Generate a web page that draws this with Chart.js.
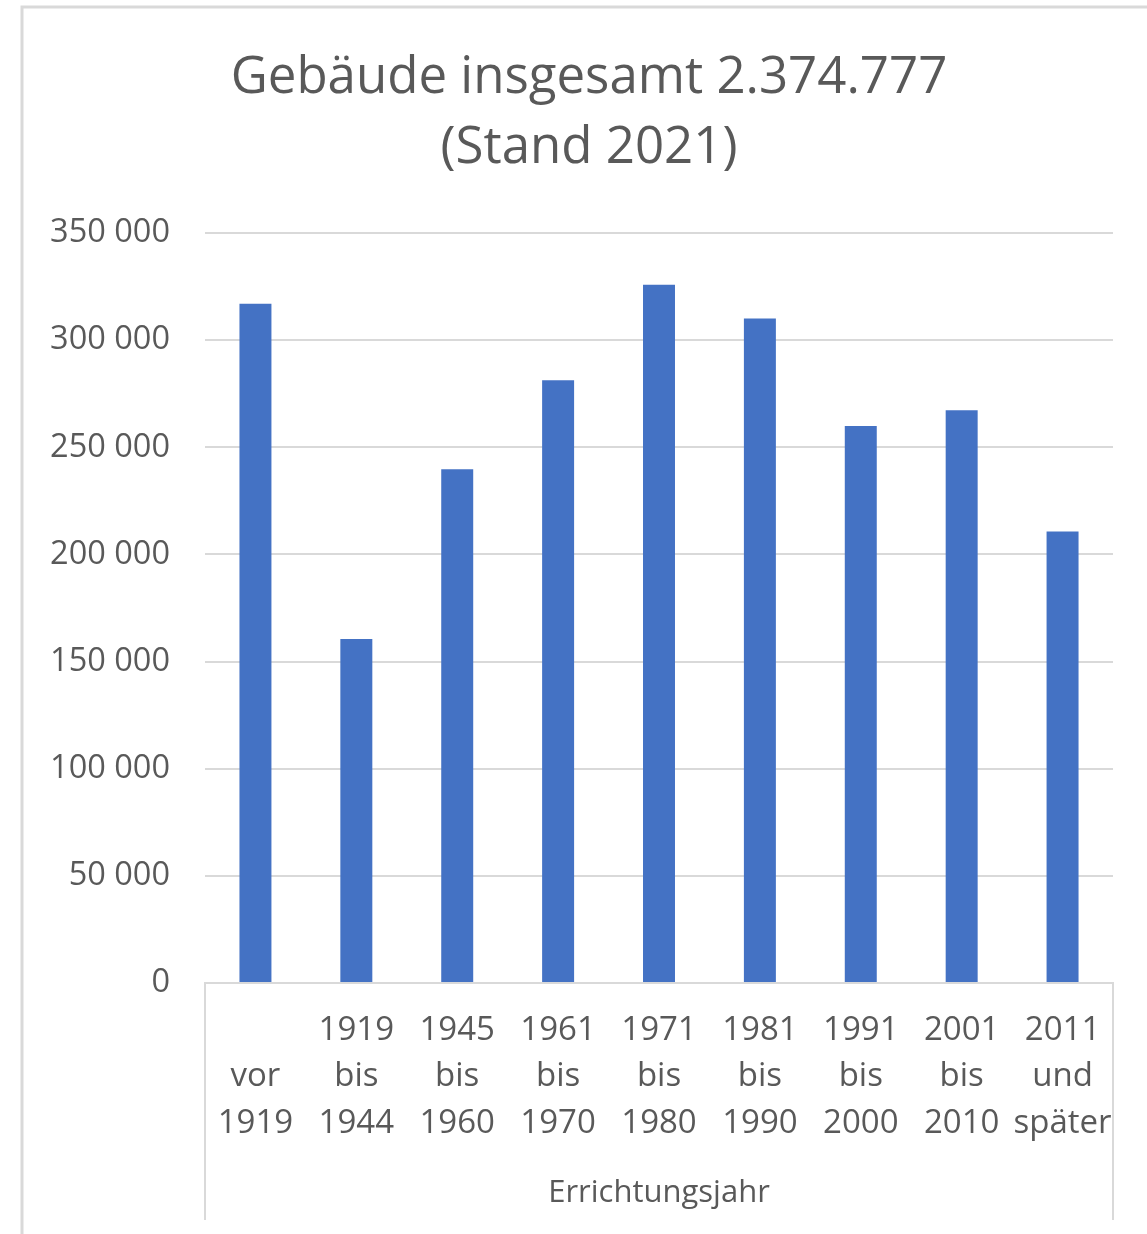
<!DOCTYPE html>
<html>
<head>
<meta charset="utf-8">
<script src="https://cdn.jsdelivr.net/npm/chart.js@4/dist/chart.umd.min.js"></script>
<style>
  html, body { margin: 0; padding: 0; background: #ffffff; overflow: hidden; }
  #wrap { position: absolute; left: 0; top: 0; width: 1147px; height: 1234px; }
</style>
</head>
<body>
<div id="wrap"><canvas id="c" width="1147" height="1234"></canvas></div>
<script>
const categories = [
  ["", "vor", "1919"],
  ["1919", "bis", "1944"],
  ["1945", "bis", "1960"],
  ["1961", "bis", "1970"],
  ["1971", "bis", "1980"],
  ["1981", "bis", "1990"],
  ["1991", "bis", "2000"],
  ["2001", "bis", "2010"],
  ["2011", "und", "später"]
];
const buildings = [317000, 160500, 239700, 281300, 325900, 310100, 259900, 267300, 210700];
const titleLines = ["Gebäude insgesamt 2.374.777", "(Stand 2021)"];
const xAxisTitle = "Errichtungsjahr";
const yMin = 0, yMax = 350000, yStep = 50000;

const textColor = "#595959";
const gridColor = "#d9d9d9";
const fontFamily = "'Open Sans', sans-serif";

const framePlugin = {
  id: "frame",
  beforeDraw(chart) {
    const ctx = chart.ctx;
    ctx.save();
    ctx.fillStyle = "#ffffff";
    ctx.fillRect(0, 0, chart.width, chart.height);
    ctx.strokeStyle = "#d9d9d9";
    ctx.lineWidth = 3;
    ctx.beginPath();
    ctx.moveTo(22, chart.height + 5);
    ctx.lineTo(22, 7);
    ctx.lineTo(chart.width + 5, 7);
    ctx.stroke();
    ctx.restore();
  },
  afterDraw(chart) {
    const ctx = chart.ctx;
    const a = chart.chartArea;
    ctx.save();
    ctx.strokeStyle = gridColor;
    ctx.lineWidth = 2;
    ctx.beginPath();
    ctx.moveTo(a.left, a.bottom);
    ctx.lineTo(a.left, 1220);
    ctx.moveTo(a.right, a.bottom);
    ctx.lineTo(a.right, 1220);
    ctx.stroke();
    // chart title, centred over the chart frame
    ctx.fillStyle = textColor;
    ctx.font = "normal 51px " + fontFamily;
    ctx.textAlign = "center";
    ctx.textBaseline = "middle";
    const cx = 589;
    titleLines.forEach((line, i) => ctx.fillText(line, cx, 78 + i * 70));
    ctx.restore();
  }
};

new Chart(document.getElementById("c"), {
  type: "bar",
  data: {
    labels: categories,
    datasets: [{
      data: buildings,
      backgroundColor: "#4472C4",
      borderWidth: 0,
      categoryPercentage: 1,
      barPercentage: 0.317
    }]
  },
  options: {
    responsive: false,
    animation: false,
    layout: { padding: { left: 0, right: 34, top: 233, bottom: 0 } },
    plugins: {
      legend: { display: false },
      tooltip: { enabled: false },
      title: { display: false }
    },
    scales: {
      x: {
        grid: { display: false, drawTicks: false },
        border: { display: true, color: gridColor, width: 2 },
        ticks: {
          color: textColor,
          font: { family: fontFamily, size: 33, lineHeight: 1.41 },
          padding: 24,
          maxRotation: 0,
          autoSkip: false
        },
        title: {
          display: true,
          text: xAxisTitle,
          color: textColor,
          font: { family: fontFamily, size: 31, lineHeight: 1.2 },
          padding: { top: 0, bottom: 22 }
        },
        afterFit(scale) { scale.height = 251; }
      },
      y: {
        min: yMin,
        max: yMax,
        grid: { color: gridColor, lineWidth: 2, drawTicks: false },
        border: { display: false },
        ticks: {
          stepSize: yStep,
          color: textColor,
          font: { family: fontFamily, size: 32.5 },
          padding: 35,
          callback: (v) => String(v).replace(/\B(?=(\d{3})+(?!\d))/g, " ")
        },
        afterFit(scale) { scale.width = 205; }
      }
    }
  },
  plugins: [framePlugin]
});
</script>
</body>
</html>
